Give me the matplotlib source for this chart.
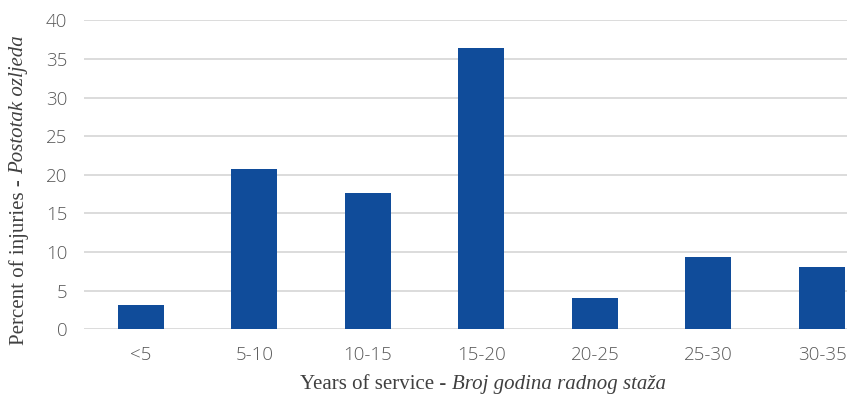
import matplotlib
matplotlib.use("Agg")
import matplotlib.pyplot as plt
from matplotlib.offsetbox import TextArea, HPacker, VPacker, AnchoredOffsetbox

# Injury share by years of service
categories = ["<5", "5-10", "10-15", "15-20", "20-25", "25-30", "30-35"]
percent = [3.1, 20.7, 17.6, 36.4, 4.0, 9.3, 8.1]
y_ticks = [0, 5, 10, 15, 20, 25, 30, 35, 40]

bar_color = "#104c9a"
grid_color = "#d9d9d9"
tick_color = "#595959"
title_color = "#404040"

fig = plt.figure(figsize=(8.47, 3.96), dpi=100)
ax = fig.add_axes([0.0992, 0.1684, 0.9008, 0.7803])

x = list(range(len(categories)))
ax.bar(x, percent, width=0.405, color=bar_color, zorder=3)

ax.set_ylim(0, 40)
ax.set_xlim(-0.5, 6.22)
ax.set_yticks(y_ticks)
ax.set_xticks(x)
ax.set_xticklabels(categories)
ax.yaxis.grid(True, color=grid_color, linewidth=1.3, zorder=0)
for s in ax.spines.values():
    s.set_visible(False)
ax.tick_params(axis="both", length=0, labelsize=13.5, labelcolor=tick_color)
ax.tick_params(axis="x", pad=12)
ax.tick_params(axis="y", pad=12)
for lab in ax.get_xticklabels() + ax.get_yticklabels():
    lab.set_family("Open Sans")
    lab.set_fontweight("light")

serif = "Liberation Serif"
fs = 15

# x axis title: normal + italic parts
xa = TextArea("Years of service - ", textprops=dict(family=serif, size=fs, color=title_color))
xb = TextArea("Broj godina radnog staža", textprops=dict(family=serif, size=fs, color=title_color, style="italic"))
xbox = HPacker(children=[xa, xb], pad=0, sep=0, align="baseline")
anch = AnchoredOffsetbox(loc="center", child=xbox, frameon=False, pad=0, borderpad=0,
                         bbox_to_anchor=(0.570, 0.028), bbox_transform=fig.transFigure)
fig.add_artist(anch)

# y axis title, rotated, stacked pieces
ya = TextArea("Percent of injuries - ", textprops=dict(family=serif, size=fs, color=title_color, rotation=90))
yb = TextArea("Postotak ozljeda", textprops=dict(family=serif, size=fs, color=title_color, style="italic", rotation=90))
ybox = VPacker(children=[yb, ya], pad=0, sep=0, align="center")
anch2 = AnchoredOffsetbox(loc="center", child=ybox, frameon=False, pad=0, borderpad=0,
                          bbox_to_anchor=(0.022, 0.52), bbox_transform=fig.transFigure)
fig.add_artist(anch2)

fig.savefig("out.png", dpi=100)
